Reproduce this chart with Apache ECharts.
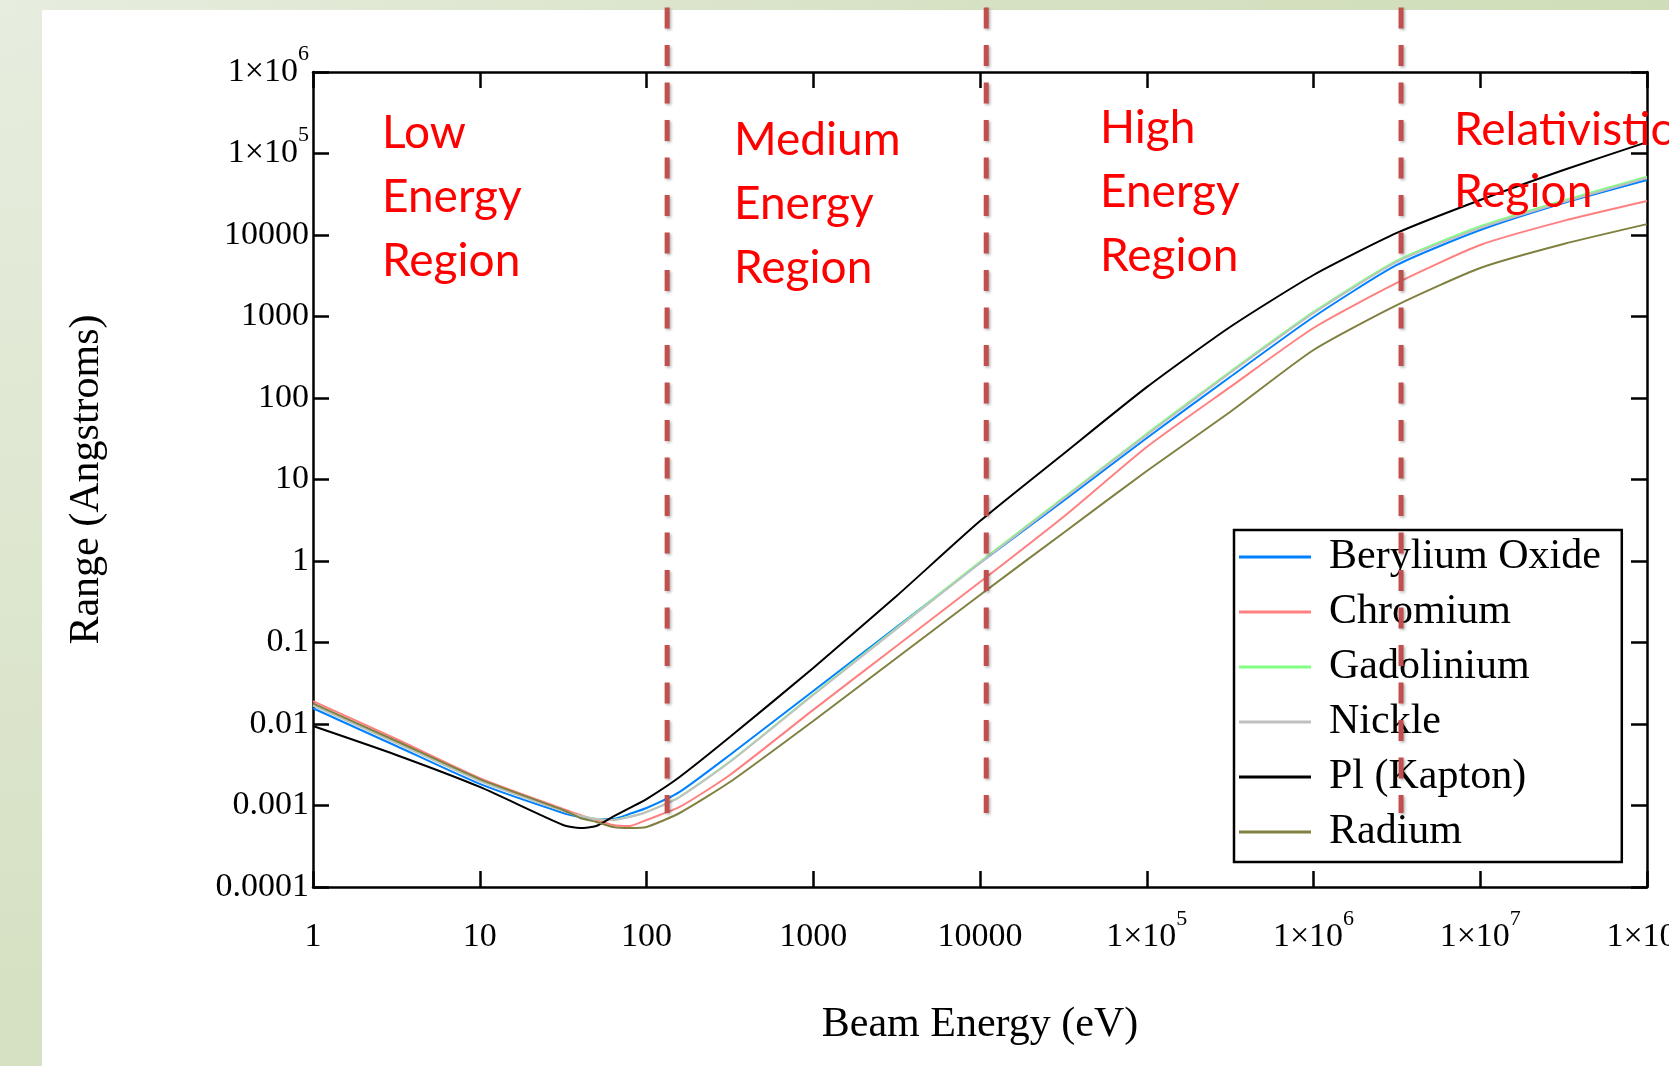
<!DOCTYPE html>
<html>
<head>
<meta charset="UTF-8">
<title>Range vs Beam Energy</title>
<script src="https://cdn.jsdelivr.net/npm/echarts@6/dist/echarts.min.js"></script>
<style>
  html, body { margin: 0; padding: 0; width: 1669px; height: 1066px; overflow: hidden;
    background: radial-gradient(circle at 0 0, #e7eddf 0px, #d6e1c3 1000px, #cfdeb8 1700px); }
  #panel { position: absolute; left: 42px; top: 10px; right: 0; bottom: 0; background: #fff; }
  #main { position: absolute; left: 0; top: 0; width: 1669px; height: 1066px; }
</style>
</head>
<body>
<div id="panel"></div>
<div id="main"></div>
<script type="text/javascript">
// beam energy (eV) where the curves were read
var energies = [1, 3.16, 10, 31.6, 40, 50, 63, 79, 100, 158, 316, 1000, 3160,
    10000, 31600, 1e5, 3.16e5, 1e6, 3.16e6, 1e7, 3.16e7, 1e8];

// range (Angstroms)
var berylliumOxide = [0.0156, 0.00537, 0.00184, 0.000809, 0.000723, 0.000683, 0.000683, 0.000787,
    0.000931, 0.00147, 0.00417, 0.0254, 0.155, 0.944, 5.45, 32.3, 181, 986, 4290, 11500, 24700, 47300];
var chromium = [0.0191, 0.00655, 0.00217, 0.000906, 0.000764, 0.000664, 0.000577, 0.000560,
    0.000664, 0.000959, 0.00237, 0.0149, 0.0906, 0.552, 3.47, 25.1, 136, 723, 2580, 7540, 14900, 26100];
var gadolinium = [0.0170, 0.00588, 0.00201, 0.000860, 0.000745, 0.000685, 0.000666, 0.000726,
    0.000836, 0.00128, 0.00346, 0.0232, 0.151, 0.975, 5.95, 36.5, 210, 1140, 4850, 12800, 26600, 52000];
var nickle = [0.0169, 0.00585, 0.00200, 0.000857, 0.000743, 0.000683, 0.000664, 0.000723,
    0.000832, 0.00127, 0.00342, 0.0227, 0.147, 0.944, 5.77, 35.2, 203, 1100, 4670, 12200, 25400, 50000];
var kapton = [0.00944, 0.00417, 0.00169, 0.000577, 0.000530, 0.000560, 0.000729, 0.000931,
    0.00120, 0.00224, 0.00692, 0.0487, 0.372, 3.09, 20.6, 136, 743, 3230, 10600, 26900, 62800, 138000];
var radium = [0.0179, 0.00618, 0.00211, 0.000881, 0.000703, 0.000628, 0.000545, 0.000530,
    0.000545, 0.000809, 0.00194, 0.0109, 0.0646, 0.383, 2.21, 12.7, 67.3, 388, 1380, 3940, 7760, 13600];

var seriesNames = ['Berylium Oxide', 'Chromium', 'Gadolinium', 'Nickle', 'Pl (Kapton)', 'Radium'];
var seriesValues = [berylliumOxide, chromium, gadolinium, nickle, kapton, radium];
var seriesColors = ['#0080ff', '#ff8080', '#80ff80', '#c0c0c0', '#000000', '#808040'];

var xTickText = ['1', '10', '100', '1000', '10000', '1×10^5', '1×10^6', '1×10^7', '1×10^8'];
var yTickText = ['0.0001', '0.001', '0.01', '0.1', '1', '10', '100', '1000', '10000', '1×10^5', '1×10^6'];

// region boundaries (eV) and labels
var regionBounds = [133, 10900, 3.35e6];
var regionNames = ['Low\nEnergy\nRegion', 'Medium\nEnergy\nRegion', 'High\nEnergy\nRegion', 'Relativistic\nRegion'];

var serif = 'Liberation Serif, Times New Roman, serif';

function tickLabel(text) {
    var parts = text.split('^');
    if (parts.length > 1) return '{b|' + parts[0] + '}{s|' + parts[1] + '}';
    return '{b|' + text + '}';
}

var labelRich = {
    b: { fontFamily: serif, fontSize: 34, color: '#000', lineHeight: 58 },
    s: { fontFamily: serif, fontSize: 22, color: '#000', lineHeight: 22, verticalAlign: 'top' }
};

var axisLine = { show: true, lineStyle: { color: '#000', width: 2.5 } };
var axisTick = { show: true, inside: true, length: 16, lineStyle: { color: '#000', width: 2.5 } };

var chart = echarts.init(document.getElementById('main'));

var option = {
    animation: false,
    backgroundColor: 'transparent',
    grid: { left: 313, top: 72, width: 1334, height: 815, outerBoundsMode: 'none', containLabel: false },
    xAxis: [{
        type: 'log', logBase: 10, min: 1, max: 1e8, splitNumber: 8,
        position: 'bottom',
        axisLine: axisLine, axisTick: axisTick, splitLine: { show: false },
        axisLabel: {
            margin: 21,
            formatter: function (v) { return tickLabel(xTickText[Math.round(Math.log10(v))]); },
            rich: labelRich
        },
        name: 'Beam Energy (eV)', nameLocation: 'middle', nameGap: 117,
        nameTextStyle: { fontFamily: serif, fontSize: 42, color: '#000' }
    }, {
        type: 'log', logBase: 10, min: 1, max: 1e8, splitNumber: 8,
        position: 'top',
        axisLine: axisLine, axisTick: axisTick, splitLine: { show: false },
        axisLabel: { show: false }
    }],
    yAxis: [{
        type: 'log', logBase: 10, min: 0.0001, max: 1e6, splitNumber: 10,
        position: 'left',
        axisLine: axisLine, axisTick: axisTick, splitLine: { show: false },
        axisLabel: {
            margin: 4,
            formatter: function (v) { return tickLabel(yTickText[Math.round(Math.log10(v)) + 4]); },
            rich: labelRich
        },
        name: 'Range (Angstroms)', nameLocation: 'middle', nameGap: 205, nameRotate: 90,
        nameTextStyle: { fontFamily: serif, fontSize: 42, color: '#000' }
    }, {
        type: 'log', logBase: 10, min: 0.0001, max: 1e6, splitNumber: 10,
        position: 'right',
        axisLine: axisLine, axisTick: axisTick, splitLine: { show: false },
        axisLabel: { show: false }
    }],
    legend: {
        data: seriesNames,
        orient: 'vertical',
        left: 1234, top: 530,
        backgroundColor: '#fff', borderColor: '#000', borderWidth: 2.5,
        padding: [5, 21, 8, 5],
        icon: 'rect', itemWidth: 72, itemHeight: 3, itemGap: 11,
        textStyle: { fontFamily: serif, fontSize: 42, lineHeight: 44, color: '#000', padding: [0, 0, 0, 13] },
        z: 5
    },
    series: seriesNames.map(function (name, i) {
        return {
            name: name,
            type: 'line',
            data: energies.map(function (e, j) { return [e, seriesValues[i][j]]; }),
            showSymbol: false,
            symbol: 'none',
            smooth: 0.2,
            color: seriesColors[i],
            lineStyle: { color: seriesColors[i], width: 2 }
        };
    })
};

chart.setOption(option);

// region dividers and labels
var regionPos = [[382, 101.5, 64], [734, 108.5, 64], [1100, 96.5, 64], [1454, 99, 62]];
var graphics = [];
regionBounds.forEach(function (e) {
    var x = chart.convertToPixel({ xAxisIndex: 0 }, e);
    graphics.push({
        type: 'line', z: 100,
        shape: { x1: x, y1: 7.5, x2: x, y2: 813 },
        style: {
            stroke: '#c0504d', lineWidth: 5, lineDash: [21, 16.5],
            shadowBlur: 3, shadowColor: 'rgba(0,0,0,0.3)', shadowOffsetX: 1.5, shadowOffsetY: 1.5
        }
    });
});
regionNames.forEach(function (t, i) {
    graphics.push({
        type: 'text', z: 101,
        x: regionPos[i][0], y: regionPos[i][1],
        style: {
            text: t, fill: '#ff0000', font: '46px Lato, sans-serif',
            lineHeight: regionPos[i][2], verticalAlign: 'top', align: 'left'
        }
    });
});
chart.setOption({ graphic: graphics });
</script>
</body>
</html>
